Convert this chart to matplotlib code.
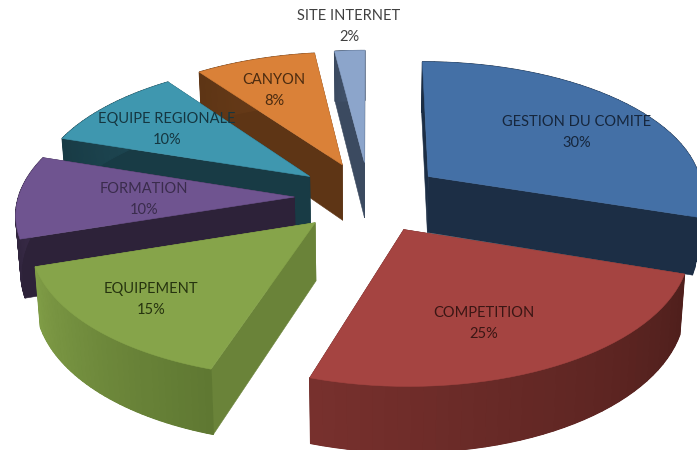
import numpy as np
import matplotlib
matplotlib.use('Agg')
import matplotlib.pyplot as plt
from matplotlib.patches import Polygon

# Chart data, clockwise from the top of the pie
labels = ['GESTION DU COMITE', 'COMPETITION', 'EQUIPEMENT', 'FORMATION',
          'EQUIPE REGIONALE', 'CANYON', 'SITE INTERNET']
values = [30, 25, 15, 10, 10, 8, 2]

# Colours per slice
top_colors = ['#4470A6', '#A54441', '#86A44A', '#6F5490', '#3F97AF', '#DA8138', '#8CA5CB']
wall_colors = ['#1C2E45', '#4F1F1C', '#6A8339', '#2D2239', '#183B45', '#5E3515', '#3B4A60']
rim_start = ['#1C2E45', '#4F1F1C', '#5F7832', '#2D2239', '#183B45', '#5E3515', '#3B4A60']
rim_end = ['#1C2E45', '#77302D', '#7F9C46', '#3A2C4A', '#1F4A56', '#6E3F1A', '#4A5C78']
text_colors = ['#16263C', '#3A1614', '#26330F', '#3A2C4C', '#153640', '#4B2B10', '#404040']

# Where the labels sit, in pixels (name line, then percent line)
label_xy = [(577, 122), (484, 313), (151, 289), (144, 189), (167, 119), (274, 80), (349, 16)]
line_gap = 21

# Projection of the pie plane on the image
cx, cy = 369, 197
radius = 276
squash = 0.477
persp = 0.111
explode = 0.27
height = 57
shrink = 0.015


def project(x, y, low=False):
    s = 1 / (1 + persp * y)
    px = radius * x * s
    py = cy - radius * squash * y * s
    if low:
        return cx + px * (1 - shrink), py + height * s
    return cx + px, py


def mix(c1, c2, t):
    a = np.array(matplotlib.colors.to_rgb(c1))
    b = np.array(matplotlib.colors.to_rgb(c2))
    return tuple(a + (b - a) * t)


def fill(ax, pts, color, lw=0.4):
    ax.add_patch(Polygon(pts, closed=True, facecolor=color, edgecolor=color, linewidth=lw))


fig = plt.figure(figsize=(6.97, 4.5), dpi=100)
ax = fig.add_axes([0, 0, 1, 1])
ax.set_xlim(0, 697)
ax.set_ylim(450, 0)
ax.axis('off')

starts = np.cumsum([0] + values[:-1]) * 3.6
sweeps = np.array(values) * 3.6

# back slices first so that the front ones cover them
order = [6, 5, 4, 3, 0, 2, 1]
for i in order:
    t0, sw = starts[i], sweeps[i]
    mid = np.radians(t0 + sw / 2)
    ox, oy = explode * np.sin(mid), explode * np.cos(mid)
    th = np.radians(np.linspace(t0, t0 + sw, 40))
    xs = ox + np.sin(th)
    ys = oy + np.cos(th)

    # the two straight walls
    for k in (0, -1):
        fill(ax, [project(ox, oy), project(xs[k], ys[k]),
                  project(xs[k], ys[k], True), project(ox, oy, True)], wall_colors[i])

    # rounded outer wall: one solid piece, then thin strips for the shading
    upper = [project(a, b) for a, b in zip(xs, ys)]
    lower = [project(a, b, True) for a, b in zip(xs, ys)]
    fill(ax, upper + lower[::-1], mix(rim_start[i], rim_end[i], 0.5))
    for k in range(len(th) - 1):
        col = mix(rim_start[i], rim_end[i], k / (len(th) - 2))
        fill(ax, [upper[k], upper[k + 1], lower[k + 1], lower[k]], col, lw=0.9)

    # top of the slice
    fill(ax, [project(ox, oy)] + upper, top_colors[i])

for i, name in enumerate(labels):
    x, y = label_xy[i]
    ax.text(x, y, name, ha='center', va='center', fontsize=10.5, family='Lato', color=text_colors[i])
    ax.text(x, y + line_gap, f'{values[i]}%', ha='center', va='center', fontsize=10.5,
            family='Lato', color=text_colors[i])

fig.savefig('out.png', dpi=100, facecolor='white')
